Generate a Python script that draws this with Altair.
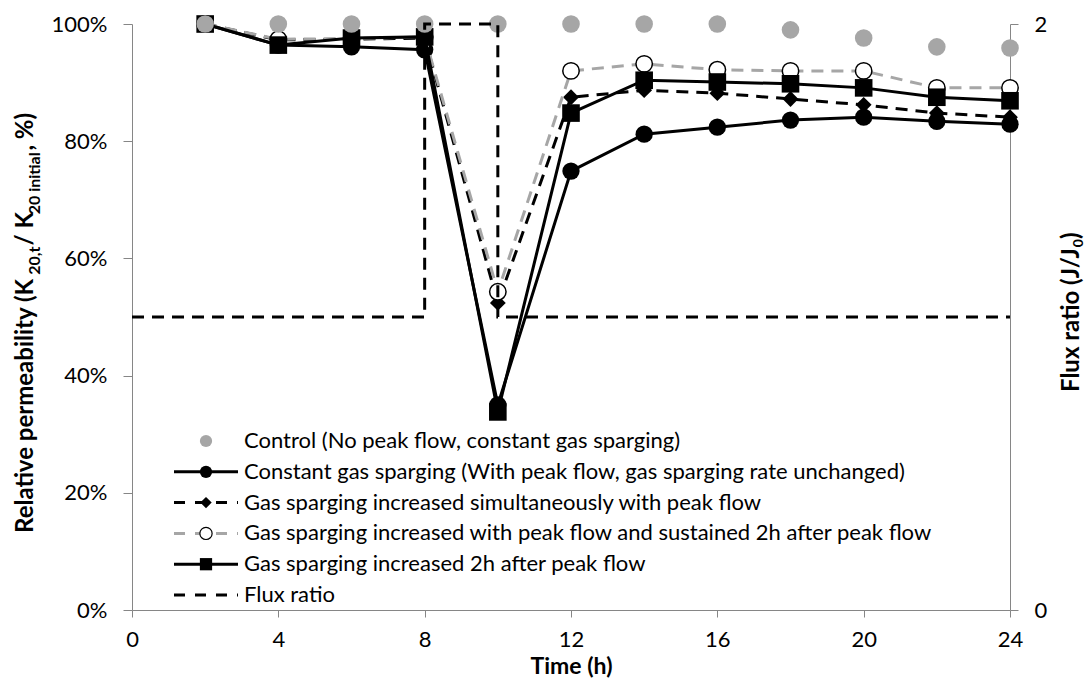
import altair as alt
import pandas as pd

# Sampling times (h) and relative permeability (%) for each operating mode
time_h = [2, 4, 6, 8, 10, 12, 14, 16, 18, 20, 22, 24]
control = [100, 100, 100, 100, 100, 100, 100, 100, 99.0, 97.6, 96.1, 95.9]
constant = [100, 96.4, 96.1, 95.6, 35.0, 74.9, 81.2, 82.4, 83.6, 84.1, 83.4, 82.9]
simultaneous = [100, 97.3, 97.4, 97.6, 52.4, 87.5, 88.7, 88.2, 87.2, 86.2, 84.8, 84.1]
sustained = [100, 97.4, 97.5, 97.8, 54.3, 92.0, 93.2, 92.2, 92.0, 92.0, 89.1, 89.1]
delayed = [100, 96.4, 97.6, 97.8, 33.8, 84.8, 90.4, 90.1, 89.8, 89.1, 87.5, 86.9]

# Flux ratio step profile (J/J0)
flux_time = [0, 8, 8, 10, 10, 24]
flux_ratio = [1, 1, 2, 2, 1, 1]

labels = [
    "Control (No peak flow, constant gas sparging)",
    "Constant gas sparging (With peak flow, gas sparging rate unchanged)",
    "Gas sparging increased simultaneously with peak flow",
    "Gas sparging increased with peak flow and sustained 2h after peak flow",
    "Gas sparging increased 2h after peak flow",
    "Flux ratio",
]

# Axis titles written piece by piece: (text, is_subscript)
y_title_parts = [
    ("Relative permeability (K", False),
    ("20,t", True),
    ("/ K", False),
    ("20 initial", True),
    (", %)", False),
]
y2_title_parts = [
    ("Flux ratio (J/J", False),
    ("0", True),
    (")", False),
]

FONT = "Lato"
GREY = "#A6A6A6"
AXIS_GREY = "#868686"
DASH = [12, 8]
W, H = 878, 586

x_enc = alt.X(
    "t:Q",
    scale=alt.Scale(domain=[0, 24], nice=False),
    axis=alt.Axis(
        values=[0, 4, 8, 12, 16, 20, 24], title="Time (h)", grid=False,
        domainColor=AXIS_GREY, tickColor=AXIS_GREY, tickSize=7,
        labelFont=FONT, labelFontSize=22, labelColor="black", labelPadding=12,
        labelFlush=False, labelOverlap=False,
        titleFont=FONT, titleFontSize=23, titleFontWeight="bold",
        titleColor="black", titlePadding=5,
    ),
)

y_left = alt.Y(
    "v:Q",
    scale=alt.Scale(domain=[0, 100], nice=False),
    axis=alt.Axis(
        values=[0, 20, 40, 60, 80, 100], labelExpr="datum.value + '%'",
        title=None, grid=False,
        domainColor=AXIS_GREY, tickColor=AXIS_GREY, tickSize=9,
        labelFont=FONT, labelFontSize=22, labelColor="black", labelPadding=16,
    ),
)


def frame(values):
    return pd.DataFrame({"t": time_h, "v": values})


def series_line(values, color, dash=None):
    kw = dict(color=color, strokeWidth=3)
    if dash:
        kw["strokeDash"] = dash
    return alt.Chart(frame(values)).mark_line(**kw).encode(x=x_enc, y=y_left)


def series_points(values, shape, fill, stroke, size, sw=0):
    return alt.Chart(frame(values)).mark_point(
        shape=shape, filled=True, fill=fill, stroke=stroke, strokeWidth=sw,
        size=size, opacity=1,
    ).encode(x=x_enc, y=y_left)


left = alt.layer(
    series_line(constant, "black"),
    series_points(constant, "circle", "black", "black", 300),
    series_line(simultaneous, "black", DASH),
    series_points(simultaneous, "diamond", "black", "black", 250),
    series_line(sustained, GREY, DASH),
    series_points(sustained, "circle", "white", "black", 270, 1.5),
    series_line(delayed, "black"),
    series_points(delayed, "square", "black", "black", 310),
    series_points(control, "circle", GREY, GREY, 310),
)

flux_df = pd.DataFrame({"t": flux_time, "f": flux_ratio, "i": list(range(len(flux_time)))})
right = alt.Chart(flux_df).mark_line(color="black", strokeWidth=3, strokeDash=DASH).encode(
    x=x_enc,
    y=alt.Y(
        "f:Q",
        scale=alt.Scale(domain=[0, 2], nice=False),
        axis=alt.Axis(
            orient="right", values=[0, 1, 2], format="d", title=None,
            grid=False, domainColor=AXIS_GREY, tickColor=AXIS_GREY, tickSize=8,
            labelFont=FONT, labelFontSize=22, labelColor="black", labelPadding=16,
        ),
    ),
    order="i:Q",
)

# Legend drawn inside the plot, lower left
LEG_TOP, LEG_STEP = 417, 30.8
SYM_X0, SYM_X1, SYM_MID, TXT_X = 42, 106, 74, 112

legend_styles = [
    dict(line=None, dash=None, shape="circle", fill=GREY, stroke=GREY, sw=0),
    dict(line="black", dash=None, shape="circle", fill="black", stroke="black", sw=0),
    dict(line="black", dash=DASH, shape="diamond", fill="black", stroke="black", sw=0),
    dict(line=GREY, dash=DASH, shape="circle", fill="white", stroke="black", sw=1.2),
    dict(line="black", dash=None, shape="square", fill="black", stroke="black", sw=0),
    dict(line="black", dash=DASH, shape=None, fill=None, stroke=None, sw=0),
]

legend_layers = []
for k, (lab, st) in enumerate(zip(labels, legend_styles)):
    yk = LEG_TOP + k * LEG_STEP
    d = pd.DataFrame({"label": [lab]})
    if st["line"]:
        kw = dict(color=st["line"], strokeWidth=3)
        if st["dash"]:
            kw["strokeDash"] = [11, 10]
        legend_layers.append(
            alt.Chart(d).mark_rule(**kw).encode(
                x=alt.value(SYM_X0), x2=alt.value(SYM_X1), y=alt.value(yk)
            )
        )
    if st["shape"]:
        legend_layers.append(
            alt.Chart(d).mark_point(
                shape=st["shape"], filled=True, fill=st["fill"], stroke=st["stroke"],
                strokeWidth=st["sw"], size=150 if st["shape"] != "diamond" else 130, opacity=1,
            ).encode(x=alt.value(SYM_MID), y=alt.value(yk))
        )
    legend_layers.append(
        alt.Chart(d).mark_text(
            align="left", baseline="middle", font=FONT, fontSize=22, color="black"
        ).encode(x=alt.value(TXT_X), y=alt.value(yk), text="label:N")
    )

# Approximate advance widths (em) for bold text, used to chain title pieces
EM = {" ": 0.22, "(": 0.34, ")": 0.34, ",": 0.25, "/": 0.41, "%": 0.86, "K": 0.67,
      "R": 0.61, "F": 0.55, "J": 0.41, "a": 0.52, "b": 0.57, "e": 0.54, "i": 0.27,
      "l": 0.27, "m": 0.86, "n": 0.58, "o": 0.57, "p": 0.57, "r": 0.37, "t": 0.38,
      "u": 0.58, "v": 0.51, "x": 0.51, "y": 0.51}


def text_width(s, size):
    return sum(EM.get(c, 0.6) for c in s) * size


def rotated_title(parts, x_base, bottom, main_size=24, sub_size=16, sub_shift=7):
    layers = []
    pos = bottom
    for txt, is_sub in parts:
        size = sub_size if is_sub else main_size
        layers.append(
            alt.Chart(pd.DataFrame({"s": [txt]})).mark_text(
                align="left", baseline="alphabetic", angle=270, font=FONT,
                fontSize=size, fontWeight="bold", color="black",
            ).encode(
                x=alt.value(x_base + (sub_shift if is_sub else 0)),
                y=alt.value(pos), text="s:N",
            )
        )
        pos -= text_width(txt, size)
    return layers


title_layers = (
    rotated_title(y_title_parts, -99, 509)
    + rotated_title(y2_title_parts, 947, 368, sub_size=14, sub_shift=4)
)

chart = (
    alt.layer(left, right, *legend_layers, *title_layers)
    .resolve_scale(y="independent")
    .properties(
        width=W, height=H,
        autosize=alt.AutoSizeParams(type="none"),
        padding={"left": 132, "top": 24, "right": 78, "bottom": 71},
        background="white",
    )
    .configure_view(strokeWidth=0)
)

chart.save("out.html", embed_options={"renderer": "svg", "actions": False})
